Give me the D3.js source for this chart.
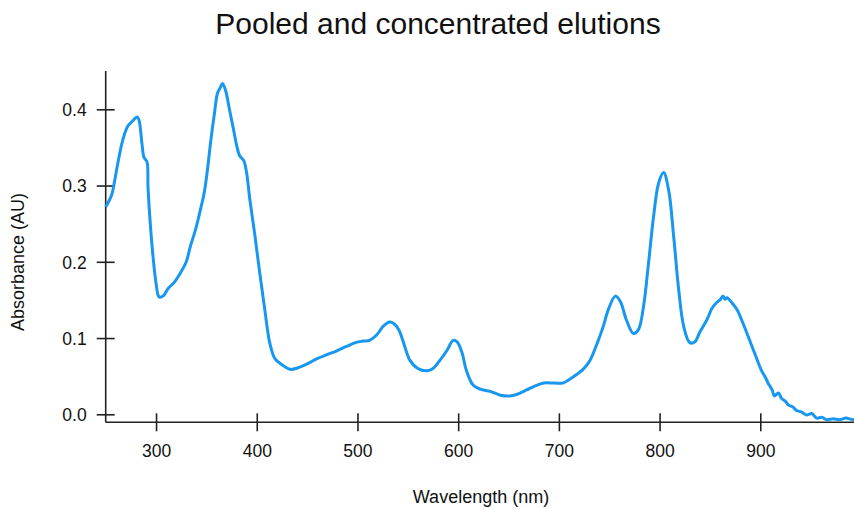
<!DOCTYPE html>
<html>
<head>
<meta charset="utf-8">
<script src="https://cdn.jsdelivr.net/npm/d3@7"></script>
<style>
  body { margin: 0; background: #fff; }
  svg text { font-family: "Liberation Sans", Arial, Helvetica, sans-serif; fill: #111; }
</style>
</head>
<body>
<div id="chart"></div>
<script>
// spectre (nm, AU)
const wavelength = [250, 256, 259, 262, 267, 272, 277, 281, 283, 286, 288, 291, 292, 294, 297, 300, 303, 307, 312, 318,
  324, 330, 334, 338, 340, 344, 348, 351, 354, 358, 361, 364, 366, 369, 373, 377, 380, 383, 387, 390,
  393, 398, 403, 408, 413, 418, 425, 433, 441, 450, 460, 469, 479, 489, 498, 506, 512, 519, 526, 532,
  536, 541, 546, 552, 560, 569, 575, 582, 589, 595, 599, 604, 608, 615, 622, 632, 642, 651, 658, 668,
  676, 685, 695, 704, 714, 724, 731, 738, 744, 749, 756, 761, 767, 774, 779, 784, 789, 794, 799, 804,
  809, 814, 819, 824, 830, 835, 840, 847, 852, 857, 860, 863, 865, 867, 872, 877, 882, 888, 895, 901,
  906, 908, 910, 912, 914, 918, 921, 925, 928, 932, 936, 941, 946, 951, 956, 961, 966, 972, 979, 985, 992, 1000];
const absorbance = [0.272, 0.288, 0.307, 0.329, 0.360, 0.378, 0.385, 0.390, 0.386, 0.355, 0.337, 0.331, 0.298, 0.255, 0.207, 0.172, 0.154, 0.155, 0.165, 0.173,
  0.185, 0.200, 0.220, 0.237, 0.246, 0.268, 0.292, 0.320, 0.355, 0.395, 0.421, 0.429, 0.434, 0.425, 0.399, 0.373, 0.353, 0.339, 0.333, 0.316,
  0.283, 0.236, 0.185, 0.137, 0.093, 0.073, 0.065, 0.059, 0.061, 0.066, 0.073, 0.078, 0.083, 0.089, 0.094, 0.096, 0.097, 0.104, 0.116, 0.121,
  0.119, 0.111, 0.093, 0.071, 0.060, 0.057, 0.060, 0.071, 0.084, 0.097, 0.095, 0.080, 0.058, 0.038, 0.033, 0.030, 0.025, 0.024, 0.026, 0.032,
  0.037, 0.041, 0.041, 0.041, 0.049, 0.059, 0.071, 0.093, 0.115, 0.137, 0.155, 0.148, 0.124, 0.106, 0.111, 0.141, 0.198, 0.259, 0.303, 0.317,
  0.294, 0.233, 0.163, 0.115, 0.094, 0.095, 0.108, 0.124, 0.139, 0.147, 0.150, 0.155, 0.151, 0.153, 0.146, 0.137, 0.122, 0.102, 0.078, 0.058,
  0.046, 0.040, 0.036, 0.031, 0.024, 0.028, 0.021, 0.017, 0.012, 0.010, 0.005, 0.003, -0.001, 0.001, -0.005, -0.004, -0.007, -0.006, -0.007, -0.005, -0.007, -0.006];

const xTicks = [300, 400, 500, 600, 700, 800, 900];
const yTicks = [0.0, 0.1, 0.2, 0.3, 0.4];

const W = 854, H = 509;
const gauche = 105.7, droite = 861, haut = 71, bas = 422.3;

const svg = d3.select("#chart").append("svg").attr("width", W).attr("height", H);

const x = d3.scaleLinear().domain([250, 1000]).range([gauche, droite]);
const y = d3.scaleLinear().domain([0, 0.4]).range([414.3, 109.3]);

// axe x
const gx = svg.append("g").attr("transform", "translate(0," + bas + ")")
  .call(d3.axisBottom(x).tickValues(xTicks).tickFormat(d3.format("d")).tickSizeOuter(0));
gx.select(".domain").attr("d", "M" + gauche + ",0H" + W).attr("stroke", "#222").attr("stroke-width", 1.6);
gx.selectAll(".tick line").attr("y1", -9).attr("y2", 9).attr("stroke", "#222").attr("stroke-width", 1.6);
gx.selectAll(".tick text").attr("y", 35).attr("dy", 0).attr("font-size", 17.5);

// axe y
const gy = svg.append("g").attr("transform", "translate(" + gauche + ",0)")
  .call(d3.axisLeft(y).tickValues(yTicks).tickFormat(d3.format(".1f")).tickSizeOuter(0));
gy.select(".domain").attr("d", "M0," + haut + "V" + bas).attr("stroke", "#222").attr("stroke-width", 1.6);
gy.selectAll(".tick line").attr("x1", -9).attr("x2", 9).attr("stroke", "#222").attr("stroke-width", 1.6);
gy.selectAll(".tick text").attr("x", -19).attr("dy", "0.36em").attr("font-size", 17.5);
svg.selectAll(".tick text").attr("fill", "#111");
svg.selectAll("g").attr("font-family", null);

// courbe
const pts = wavelength.map((w, i) => [w, absorbance[i]]);
svg.append("path")
  .datum(pts)
  .attr("fill", "none")
  .attr("stroke", "#1797f0")
  .attr("stroke-width", 3)
  .attr("stroke-linejoin", "round")
  .attr("d", d3.line().x(d => x(d[0])).y(d => y(d[1])).curve(d3.curveCatmullRom));

// titres
svg.append("text").attr("x", 438).attr("y", 34).attr("text-anchor", "middle")
  .attr("font-size", 30).text("Pooled and concentrated elutions");
svg.append("text").attr("x", 481).attr("y", 503).attr("text-anchor", "middle")
  .attr("font-size", 18).text("Wavelength (nm)");
svg.append("text").attr("transform", "translate(24,262) rotate(-90)").attr("text-anchor", "middle")
  .attr("font-size", 18).text("Absorbance (AU)");
</script>
</body>
</html>
